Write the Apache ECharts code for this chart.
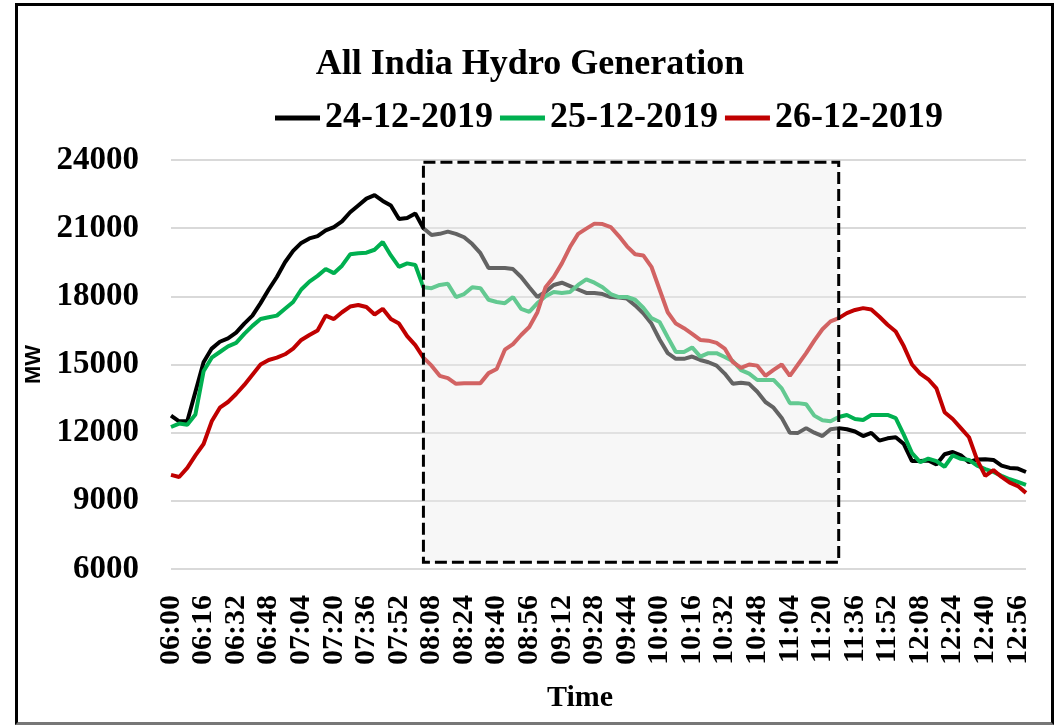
<!DOCTYPE html>
<html>
<head>
<meta charset="utf-8">
<title>All India Hydro Generation</title>
<script src="https://cdn.jsdelivr.net/npm/echarts@6/dist/echarts.min.js"></script>
<style>
  html, body { margin: 0; padding: 0; background: #fff; }
  #frame { position: absolute; left: 15px; top: 3px; width: 1039px; height: 722px;
           box-sizing: border-box; border: 3px solid #000; border-bottom-color: #777; }
  #chart { position: absolute; left: 0; top: 0; width: 1060px; height: 727px; }
</style>
</head>
<body>
<div id="frame"></div>
<div id="chart"></div>
<script>
// time slots, every 4 minutes 06:00 - 13:00
var times = [
  '06:00','06:04','06:08','06:12','06:16','06:20','06:24','06:28','06:32','06:36','06:40','06:44','06:48','06:52','06:56',
  '07:00','07:04','07:08','07:12','07:16','07:20','07:24','07:28','07:32','07:36','07:40','07:44','07:48','07:52','07:56',
  '08:00','08:04','08:08','08:12','08:16','08:20','08:24','08:28','08:32','08:36','08:40','08:44','08:48','08:52','08:56',
  '09:00','09:04','09:08','09:12','09:16','09:20','09:24','09:28','09:32','09:36','09:40','09:44','09:48','09:52','09:56',
  '10:00','10:04','10:08','10:12','10:16','10:20','10:24','10:28','10:32','10:36','10:40','10:44','10:48','10:52','10:56',
  '11:00','11:04','11:08','11:12','11:16','11:20','11:24','11:28','11:32','11:36','11:40','11:44','11:48','11:52','11:56',
  '12:00','12:04','12:08','12:12','12:16','12:20','12:24','12:28','12:32','12:36','12:40','12:44','12:48','12:52','12:56',
  '13:00'
];

var seriesNames = ['24-12-2019', '25-12-2019', '26-12-2019'];
var seriesColors = ['#000000', '#00b050', '#c00000'];

// MW
var day24 = [
  12750,12500,12500,13800,15100,15700,16000,16150,16400,16800,
  17150,17700,18300,18850,19500,20000,20350,20550,20650,20900,
  21050,21300,21700,22000,22300,22450,22200,22000,21400,21450,
  21650,21000,20700,20750,20850,20750,20600,20300,19900,19250,
  19250,19250,19200,18850,18400,17970,18200,18500,18600,18450,
  18300,18150,18150,18100,17970,17950,17900,17600,17250,16800,
  16100,15500,15250,15250,15350,15200,15100,14950,14600,14150,
  14200,14150,13800,13350,13100,12650,12000,11990,12200,12000,
  11850,12150,12200,12150,12050,11850,11990,11650,11750,11800,
  11500,10750,10750,10780,10600,11050,11150,11000,10700,10820,
  10830,10800,10550,10450,10420,10270
];
var day25 = [
  12250,12400,12350,12800,14700,15300,15550,15800,15950,16350,
  16700,17000,17080,17150,17450,17750,18300,18650,18900,19200,
  19020,19350,19850,19900,19920,20050,20390,19800,19300,19450,
  19380,18400,18360,18500,18550,17970,18100,18400,18360,17850,
  17750,17700,17970,17450,17320,17700,18000,18190,18150,18190,
  18500,18750,18600,18400,18100,17970,17970,17850,17500,17040,
  16870,16200,15550,15550,15750,15350,15500,15500,15330,15150,
  14750,14600,14320,14320,14320,13950,13300,13300,13250,12750,
  12550,12500,12690,12780,12600,12560,12780,12780,12780,12640,
  11900,11100,10700,10860,10750,10500,11000,10850,10800,10550,
  10400,10270,10100,9950,9830,9700
];
var day26 = [
  10140,10050,10450,11000,11500,12500,13100,13350,13700,14100,
  14550,15000,15200,15300,15450,15700,16080,16300,16500,17150,
  17000,17300,17550,17620,17530,17200,17450,17000,16800,16250,
  15850,15300,14950,14500,14400,14150,14180,14180,14180,14620,
  14800,15650,15900,16300,16650,17300,18400,18850,19450,20170,
  20750,20980,21200,21180,21050,20650,20200,19850,19800,19300,
  18300,17300,16800,16600,16350,16080,16050,15950,15700,15100,
  14850,15000,14950,14500,14760,15000,14500,15000,15500,16050,
  16550,16900,17040,17260,17400,17480,17420,17100,16750,16450,
  15800,15000,14600,14350,13950,12900,12600,12200,11800,10800,
  10100,10350,10050,9800,9650,9350
];

var yMin = 6000, yMax = 24000, yStep = 3000;
// highlighted window
var boxFrom = '08:04', boxTo = '11:28', boxLow = 6300, boxHigh = 23900;

var serif = 'Liberation Serif';
var chart = echarts.init(document.getElementById('chart'));

var lines = [day24, day25, day26].map(function (d, i) {
  return {
    name: seriesNames[i],
    type: 'line',
    data: d,
    symbol: 'none',
    z: 2,
    itemStyle: { color: seriesColors[i] },
    lineStyle: { color: seriesColors[i], width: 4 }
  };
});

// the shaded dashed box sits on top of the lines
lines.push({
  name: 'box',
  type: 'line',
  data: [],
  silent: true,
  z: 10,
  markArea: {
    silent: true,
    z: 10,
    itemStyle: {
      color: 'rgba(235,235,235,0.42)',
      borderColor: '#000',
      borderWidth: 3,
      borderType: [12, 5]
    },
    data: [[{ xAxis: boxFrom, yAxis: boxHigh }, { xAxis: boxTo, yAxis: boxLow }]]
  }
});

var option = {
  animation: false,
  backgroundColor: 'transparent',
  title: {
    text: 'All India Hydro Generation',
    left: 'center',
    top: 42,
    textStyle: { fontFamily: serif, fontWeight: 'bold', fontSize: 36, color: '#000' }
  },
  legend: {
    data: seriesNames,
    top: 100,
    left: 275,
    icon: 'rect',
    itemWidth: 45,
    itemHeight: 5,
    itemGap: 7,
    padding: 0,
    textStyle: { fontFamily: serif, fontWeight: 'bold', fontSize: 36, color: '#000' }
  },
  grid: { left: 171, right: 34, top: 160, bottom: 158, outerBoundsMode: 'none' },
  xAxis: {
    type: 'category',
    data: times,
    boundaryGap: false,
    name: 'Time',
    nameLocation: 'middle',
    nameGap: 114,
    nameTextStyle: { fontFamily: serif, fontWeight: 'bold', fontSize: 30, color: '#000', padding: [0, 37, 0, 0] },
    axisLine: { show: false },
    axisTick: { show: false },
    axisLabel: {
      interval: 3,
      rotate: 90,
      margin: 26,
      fontFamily: serif,
      fontWeight: 'bold',
      fontSize: 30,
      color: '#000'
    }
  },
  yAxis: {
    type: 'value',
    min: yMin,
    max: yMax,
    interval: yStep,
    name: 'MW',
    nameLocation: 'middle',
    nameGap: 126,
    nameTextStyle: { fontFamily: 'Liberation Sans', fontWeight: 'bold', fontSize: 22, color: '#000' },
    axisLine: { show: false },
    axisTick: { show: false },
    splitLine: { lineStyle: { color: '#d9d9d9', width: 2 } },
    axisLabel: {
      margin: 32,
      fontFamily: serif,
      fontWeight: 'bold',
      fontSize: 33,
      color: '#000',
      formatter: function (v) { return String(v); }
    }
  },
  series: lines
};

chart.setOption(option);
</script>
</body>
</html>
